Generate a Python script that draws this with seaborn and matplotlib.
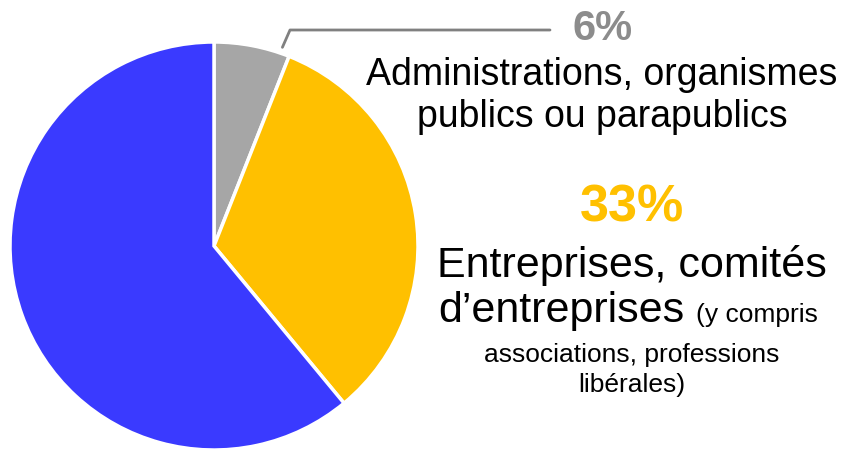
import numpy as np
import matplotlib
matplotlib.use('Agg')
import matplotlib.pyplot as plt
import seaborn as sns

# Data
segments = ['Administrations', 'Entreprises', 'Particuliers']
shares = [6, 33, 61]
seg_colors = ['#A6A6A6', '#FFC000', '#3A3AFF']

sns.set_theme(style='white')
plt.rcParams['font.family'] = ['Liberation Sans', 'DejaVu Sans']

W, H = 841, 451
fig = plt.figure(figsize=(W / 100, H / 100), dpi=100)

# pie centre (214, 246) px, radius 204 px
cx, cy, r = 214, 246, 204
ax = fig.add_axes([(cx - r) / W, (H - cy - r) / H, 2 * r / W, 2 * r / H])
ax.pie(shares, colors=seg_colors, startangle=90, counterclock=False,
       wedgeprops=dict(edgecolor='white', linewidth=2.5))
ax.set_xlim(-1, 1)
ax.set_ylim(-1, 1)
ax.set_aspect('equal')
ax.axis('off')


def px(x, y):
    return x / W, 1 - y / H


# leader line for the small slice
a = np.deg2rad(71)
p0 = (cx + 1.03 * r * np.cos(a), cy - 1.03 * r * np.sin(a))
xs = [p0[0], 290, 550]
ys = [p0[1], 30, 30]
fig.add_artist(plt.Line2D([x / W for x in xs], [1 - y / H for y in ys],
                          color='#808080', lw=2))

kw = dict(va='baseline', color='black')
fig.text(*px(603, 40), '6%', ha='center', va='baseline', fontsize=30,
         fontweight='bold', color='#8C8C8C')
fig.text(*px(602, 85), 'Administrations, organismes', ha='center', fontsize=27, **kw)
fig.text(*px(602, 127), 'publics ou parapublics', ha='center', fontsize=27, **kw)

fig.text(*px(632, 222), '33%', ha='center', va='baseline', fontsize=37.5,
         fontweight='bold', color='#FFC000')
fig.text(*px(632, 277), 'Entreprises, comités', ha='center', fontsize=31, **kw)
fig.text(*px(684, 322), 'd\u2019entreprises', ha='right', fontsize=31, **kw)
fig.text(*px(696, 322), '(y compris', ha='left', fontsize=19, **kw)
fig.text(*px(632, 362), 'associations, professions', ha='center', fontsize=19, **kw)
fig.text(*px(632, 392), 'libérales)', ha='center', fontsize=19, **kw)

fig.savefig('out.png', dpi=100, facecolor='white')
